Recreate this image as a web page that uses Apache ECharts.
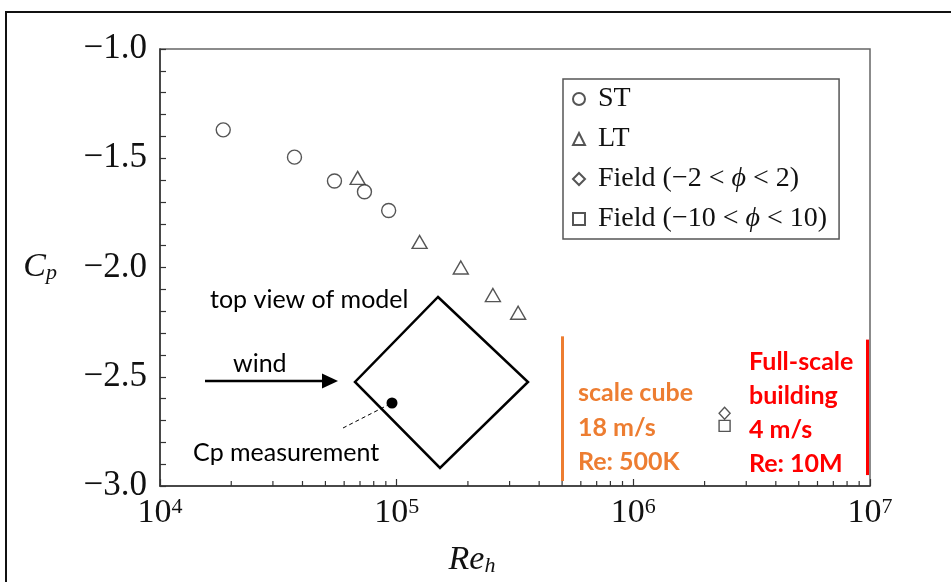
<!DOCTYPE html>
<html>
<head>
<meta charset="utf-8">
<script src="https://cdn.jsdelivr.net/npm/echarts@6/dist/echarts.min.js"></script>
<style>
  html, body { margin: 0; padding: 0; background: #fff; }
  #chart { width: 951px; height: 582px; }
</style>
</head>
<body>
<div id="chart"></div>
<script>
// Pressure coefficient Cp against building Reynolds number Re_h
const stRe = [18500, 37000, 54600, 73100, 92500];
const stCp = [-1.37, -1.495, -1.604, -1.653, -1.739];
const ltRe = [68400, 125000, 186600, 255000, 326000];
const ltCp = [-1.59, -1.883, -2.0, -2.126, -2.207];
const fieldNarrowRe = [2430000];
const fieldNarrowCp = [-2.667];
const fieldWideRe = [2430000];
const fieldWideCp = [-2.725];

const seriesNames = ['ST', 'LT', 'Field (\u22122 < \u03d5 < 2)', 'Field (\u221210 < \u03d5 < 10)'];

// axis ticks
const yMin = -3.0, yMax = -1.0, yStep = 0.5;
const xMin = 1e4, xMax = 1e7;
const xMinorTicks = [
  2e4, 3e4, 4e4, 5e4, 6e4, 7e4, 8e4, 9e4,
  2e5, 3e5, 4e5, 5e5, 6e5, 7e5, 8e5, 9e5,
  2e6, 3e6, 4e6, 5e6, 6e6, 7e6, 8e6, 9e6
];

// reference Reynolds numbers: scale cube and full-scale building
const scaleCubeRe = 5e5;
const scaleCubeCp = [-2.315, -2.977];
const fullScaleRe = 9.75e6;
const fullScaleCp = [-2.33, -2.95];

const SERIF = '"Liberation Serif", "DejaVu Serif", serif';
const SANS = 'Lato, "Open Sans", "Noto Sans", sans-serif';
const ORANGE = '#ED7D31';
const RED = '#FF0000';

const pairs = (xs, ys) => xs.map((x, i) => [x, ys[i]]);

const markerStyle = { color: '#fff', borderColor: '#2a2a2a', borderWidth: 1.4 };

function legendLabel(name) {
  const body = name.split('\u03d5').map(s => '{t|' + s + '}').join('{i|\u03d5}');
  return '{g| }' + body;
}

function note(text, x, y, color, bold) {
  return {
    type: 'text',
    style: {
      x: x, y: y, text: text, fill: color,
      font: (bold ? 'bold ' : '') + '25px ' + SANS,
      verticalAlign: 'middle', align: 'left'
    }
  };
}

const chart = echarts.init(document.getElementById('chart'));

chart.setOption({
  animation: false,
  backgroundColor: '#fff',
  grid: {
    left: 160, right: 81, top: 49, bottom: 89,
    show: true, borderColor: '#666', borderWidth: 1.5, backgroundColor: 'transparent'
  },
  xAxis: {
    type: 'log', logBase: 10, min: xMin, max: xMax,
    name: '{i|Re}{s|h}',
    nameLocation: 'middle', nameGap: 57,
    nameTextStyle: {
      padding: [0, 86, 0, 0],
      rich: {
        i: { fontFamily: SERIF, fontStyle: 'italic', fontSize: 34, color: '#111', lineHeight: 34 },
        s: { fontFamily: SERIF, fontStyle: 'italic', fontSize: 22, color: '#111', lineHeight: 14, verticalAlign: 'bottom' }
      }
    },
    axisLine: { show: true, lineStyle: { color: '#333', width: 1.5 } },
    axisTick: { show: true, inside: true, length: 7, lineStyle: { color: '#333', width: 1.2 } },
    splitLine: { show: false },
    minorTick: { show: false },
    axisLabel: {
      margin: 10,
      formatter: v => '{b|10}{s|' + Math.round(Math.log10(v)) + '}',
      rich: {
        b: { fontFamily: SERIF, fontSize: 34, color: '#111', lineHeight: 34 },
        s: { fontFamily: SERIF, fontSize: 22, color: '#111', lineHeight: 16, verticalAlign: 'top' }
      }
    }
  },
  yAxis: {
    type: 'value', min: yMin, max: yMax, interval: yStep,
    name: '{c|C}{p|p}',
    nameLocation: 'middle', nameRotate: 0, nameGap: 103,
    nameTextStyle: {
      rich: {
        c: { fontFamily: SERIF, fontStyle: 'italic', fontSize: 34, color: '#111', lineHeight: 34 },
        p: { fontFamily: SERIF, fontStyle: 'italic', fontSize: 22, color: '#111', lineHeight: 14, verticalAlign: 'bottom' }
      }
    },
    axisLine: { show: true, lineStyle: { color: '#333', width: 1.5 } },
    axisTick: { show: true, inside: true, length: 6, lineStyle: { color: '#333', width: 1.2 } },
    minorTick: { show: true, splitNumber: 5, length: 6, lineStyle: { color: '#333', width: 1.2 } },
    splitLine: { show: false },
    axisLabel: {
      margin: 13,
      fontFamily: SERIF, fontSize: 35, color: '#111',
      formatter: v => (v < 0 ? '\u2212' : '') + Math.abs(v).toFixed(1)
    }
  },
  legend: {
    data: seriesNames,
    orient: 'vertical', left: 563, top: 79,
    padding: [6, 12, 6, 9],
    itemWidth: 12, itemHeight: 12, itemGap: 12,
    borderColor: '#555', borderWidth: 1.5,
    selectedMode: false,
    formatter: legendLabel,
    textStyle: {
      fontFamily: SERIF, fontSize: 28, color: '#111', lineHeight: 28,
      rich: {
        g: { width: 8, fontSize: 28, fontFamily: SERIF, lineHeight: 28 },
        t: { fontFamily: SERIF, fontSize: 28, color: '#111', lineHeight: 28 },
        i: { fontFamily: SERIF, fontStyle: 'italic', fontSize: 28, color: '#111', lineHeight: 28 }
      }
    }
  },
  series: [
    {
      name: seriesNames[0], type: 'scatter', symbol: 'circle', symbolSize: 14,
      itemStyle: markerStyle, data: pairs(stRe, stCp)
    },
    {
      name: seriesNames[1], type: 'scatter', symbol: 'triangle', symbolSize: [15, 13],
      itemStyle: markerStyle, data: pairs(ltRe, ltCp)
    },
    {
      name: seriesNames[2], type: 'scatter', symbol: 'diamond', symbolSize: [11, 12],
      itemStyle: markerStyle, data: pairs(fieldNarrowRe, fieldNarrowCp)
    },
    {
      name: seriesNames[3], type: 'scatter', symbol: 'rect', symbolSize: 11,
      itemStyle: markerStyle, data: pairs(fieldWideRe, fieldWideCp)
    },
    {
      // log-decade minor ticks along the bottom axis, plus the reference Re markers
      name: 'xMinor', type: 'custom', silent: true, clip: false,
      data: xMinorTicks.map(v => [v, yMin]),
      renderItem: (params, api) => {
        const p = api.coord([api.value(0), api.value(1)]);
        return {
          type: 'line',
          shape: { x1: p[0], y1: p[1], x2: p[0], y2: p[1] - 5 },
          style: { stroke: '#333', lineWidth: 1.2 }
        };
      },
      markLine: {
        silent: true, symbol: 'none', label: { show: false },
        data: [
          [
            { coord: [scaleCubeRe, scaleCubeCp[0]], lineStyle: { color: ORANGE, width: 3, type: 'solid' } },
            { coord: [scaleCubeRe, scaleCubeCp[1]] }
          ],
          [
            { coord: [fullScaleRe, fullScaleCp[0]], lineStyle: { color: RED, width: 3, type: 'solid' } },
            { coord: [fullScaleRe, fullScaleCp[1]] }
          ]
        ]
      }
    }
  ],
  graphic: [
    // page frame
    { type: 'line', shape: { x1: 5, y1: 12, x2: 951, y2: 12 }, style: { stroke: '#111', lineWidth: 2 } },
    { type: 'line', shape: { x1: 6, y1: 12, x2: 6, y2: 582 }, style: { stroke: '#111', lineWidth: 2 } },

    // top-view sketch of the model
    note('top view of model', 210, 300, '#000', false),
    note('wind', 233, 364, '#000', false),
    note('Cp measurement', 193, 453, '#000', false),
    { type: 'line', shape: { x1: 205, y1: 381, x2: 325, y2: 381 }, style: { stroke: '#000', lineWidth: 2.5 } },
    { type: 'polygon', shape: { points: [[338, 381], [322, 373.5], [322, 388.5]] }, style: { fill: '#000' } },
    {
      type: 'polygon',
      shape: { points: [[438, 297], [528, 382], [440, 468], [355, 382]] },
      style: { fill: 'none', stroke: '#000', lineWidth: 2.5 }
    },
    { type: 'circle', shape: { cx: 392, cy: 403, r: 5.5 }, style: { fill: '#000' } },
    {
      type: 'line', shape: { x1: 343, y1: 428, x2: 388, y2: 405 },
      style: { stroke: '#000', lineWidth: 1, lineDash: [4, 3] }
    },

    // scale cube notes
    note('scale cube', 578, 393, ORANGE, true),
    note('18 m/s', 578, 428, ORANGE, true),
    note('Re: 500K', 578, 462, ORANGE, true),

    // full-scale building notes
    note('Full-scale', 749, 362, RED, true),
    note('building', 749, 396, RED, true),
    note('4 m/s', 749, 430, RED, true),
    note('Re: 10M', 749, 464, RED, true)
  ]
});
</script>
</body>
</html>
